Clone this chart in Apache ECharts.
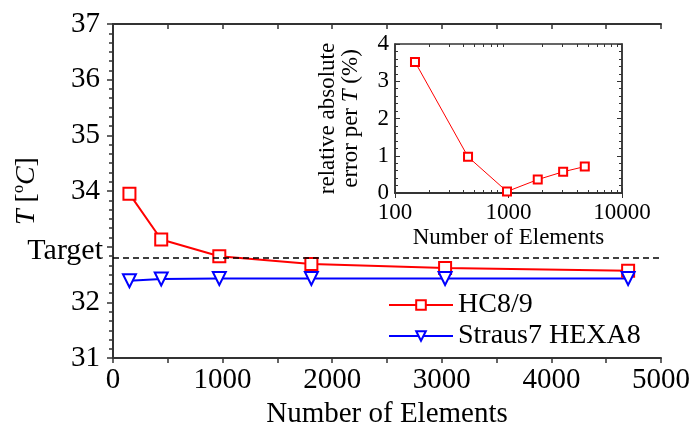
<!DOCTYPE html>
<html>
<head>
<meta charset="utf-8">
<script src="https://cdn.jsdelivr.net/npm/echarts@6/dist/echarts.min.js"></script>
<style>
  html, body { margin: 0; padding: 0; background: #ffffff; }
  #main { width: 694px; height: 434px; }
</style>
</head>
<body>
<div id="main"></div>
<script>
// data
var elements = [150, 440, 970, 1810, 3030, 4700];
var hcTemp = [33.95, 33.13, 32.83, 32.69, 32.62, 32.57];
var strausTemp = [32.39, 32.42, 32.43, 32.43, 32.43, 32.43];
var targetTemp = 32.81;
var relError = [3.52, 0.97, 0.04, 0.36, 0.57, 0.71];
var logMinorTicks = [200, 300, 400, 500, 600, 700, 800, 900, 2000, 3000, 4000, 5000, 6000, 7000, 8000, 9000];

var FONT = 'Liberation Serif';
var AXIS_COLOR = '#333333';

function pairs(xs, ys) {
    return xs.map(function (x, i) { return [x, ys[i]]; });
}
function plain(v) { return String(v); }

// log axis used only for the small decade ticks of the inset
function insetMinorAxis(pos) {
    return {
        type: 'log', gridIndex: 1, min: 100, max: 10000, logBase: 10, position: pos,
        axisLine: { show: false },
        axisTick: { show: true, inside: true, length: 3, customValues: logMinorTicks, lineStyle: { color: AXIS_COLOR } },
        axisLabel: { show: false },
        splitLine: { show: false }
    };
}

var chart = echarts.init(document.getElementById('main'), null, { renderer: 'canvas' });

var option = {
    animation: false,
    textStyle: { fontFamily: FONT, color: '#000' },
    grid: [
        { left: 113, right: 33, top: 24, bottom: 75 },
        { left: 395, top: 44, width: 227, height: 149, show: true, borderColor: AXIS_COLOR, borderWidth: 1.5, backgroundColor: 'transparent' }
    ],
    legend: {
        orient: 'vertical',
        left: 383,
        top: 286,
        itemWidth: 64,
        itemHeight: 12,
        itemGap: 3,
        textStyle: { fontFamily: FONT, fontSize: 28, color: '#000' },
        data: ['HC8/9', 'Straus7 HEXA8']
    },
    xAxis: [
        {
            type: 'value', gridIndex: 0, min: 0, max: 5000, interval: 1000,
            name: 'Number of Elements', nameLocation: 'middle', nameGap: 36,
            nameTextStyle: { fontFamily: FONT, fontSize: 29, color: '#000' },
            axisLine: { lineStyle: { color: AXIS_COLOR, width: 2 } },
            axisTick: { inside: false, length: 5, lineStyle: { color: AXIS_COLOR, width: 1.5 } },
            minorTick: { show: true, splitNumber: 2, length: 5, lineStyle: { color: AXIS_COLOR, width: 1.5 } },
            axisLabel: { fontFamily: FONT, fontSize: 29, color: '#000', margin: 8, formatter: plain },
            splitLine: { show: false }
        },
        {
            type: 'value', gridIndex: 0, min: 0, max: 5000, interval: 1000, position: 'top',
            axisLine: { lineStyle: { color: AXIS_COLOR, width: 2 } },
            axisTick: { inside: true, length: 5, lineStyle: { color: AXIS_COLOR, width: 1.5 } },
            minorTick: { show: true, splitNumber: 2, length: 5, lineStyle: { color: AXIS_COLOR, width: 1.5 } },
            axisLabel: { show: false },
            splitLine: { show: false }
        },
        {
            type: 'log', gridIndex: 1, min: 100, max: 10000, logBase: 10,
            name: 'Number of Elements', nameLocation: 'middle', nameGap: 33,
            nameTextStyle: { fontFamily: FONT, fontSize: 23, color: '#000' },
            axisLine: { lineStyle: { color: AXIS_COLOR, width: 1.5 } },
            axisTick: { inside: true, length: 5, lineStyle: { color: AXIS_COLOR } },
            axisLabel: { fontFamily: FONT, fontSize: 23, color: '#000', margin: 8, formatter: plain },
            splitLine: { show: false }
        },
        {
            type: 'log', gridIndex: 1, min: 100, max: 10000, logBase: 10, position: 'top',
            axisLine: { lineStyle: { color: AXIS_COLOR, width: 1.5 } },
            axisTick: { inside: true, length: 5, lineStyle: { color: AXIS_COLOR } },
            axisLabel: { show: false },
            splitLine: { show: false }
        },
        insetMinorAxis('bottom'),
        insetMinorAxis('top')
    ],
    yAxis: [
        {
            type: 'value', gridIndex: 0, min: 31, max: 37, interval: 1,
            name: '{i|T} [{sup|o}{i|C}]', nameLocation: 'middle', nameGap: 70, nameRotate: 90,
            nameTextStyle: {
                fontFamily: FONT, fontSize: 28, color: '#000', lineHeight: 32,
                rich: {
                    i: { fontFamily: FONT, fontSize: 28, fontStyle: 'italic', color: '#000', lineHeight: 32 },
                    sup: { fontFamily: FONT, fontSize: 16, color: '#000', verticalAlign: 'top', lineHeight: 32 }
                }
            },
            axisLine: { lineStyle: { color: AXIS_COLOR, width: 2 } },
            axisTick: { inside: false, length: 6, lineStyle: { color: AXIS_COLOR, width: 1.5 } },
            minorTick: { show: true, splitNumber: 6, length: 4, lineStyle: { color: AXIS_COLOR, width: 1.5 } },
            axisLabel: {
                fontFamily: FONT, fontSize: 29, color: '#000', margin: 13,
                formatter: function (v) { return v === 33 ? '' : String(v); }
            },
            splitLine: { show: false }
        },
        {
            type: 'value', gridIndex: 0, min: 31, max: 37, interval: 1, position: 'right',
            axisLine: { lineStyle: { color: AXIS_COLOR, width: 2 } },
            axisTick: { inside: true, length: 6, lineStyle: { color: AXIS_COLOR, width: 1.5 } },
            minorTick: { show: true, splitNumber: 6, length: 4, lineStyle: { color: AXIS_COLOR, width: 1.5 } },
            axisLabel: { show: false },
            splitLine: { show: false }
        },
        {
            type: 'value', gridIndex: 1, min: 0, max: 4, interval: 1,
            name: 'relative absolute\nerror per {i|T} (%)', nameLocation: 'middle', nameGap: 33, nameRotate: 90,
            nameTextStyle: {
                fontFamily: FONT, fontSize: 23, color: '#000', lineHeight: 23,
                rich: {
                    i: { fontFamily: FONT, fontSize: 23, fontStyle: 'italic', color: '#000', lineHeight: 23 }
                }
            },
            axisLine: { lineStyle: { color: AXIS_COLOR, width: 1.5 } },
            axisTick: { inside: true, length: 5, lineStyle: { color: AXIS_COLOR } },
            minorTick: { show: true, splitNumber: 5, length: 3, lineStyle: { color: AXIS_COLOR } },
            axisLabel: { fontFamily: FONT, fontSize: 23, color: '#000', margin: 6 },
            splitLine: { show: false }
        },
        {
            type: 'value', gridIndex: 1, min: 0, max: 4, interval: 1, position: 'right',
            axisLine: { lineStyle: { color: AXIS_COLOR, width: 1.5 } },
            axisTick: { inside: true, length: 5, lineStyle: { color: AXIS_COLOR } },
            minorTick: { show: true, splitNumber: 5, length: 3, lineStyle: { color: AXIS_COLOR } },
            axisLabel: { show: false },
            splitLine: { show: false }
        }
    ],
    series: [
        {
            name: 'HC8/9',
            type: 'line',
            xAxisIndex: 0, yAxisIndex: 0,
            data: pairs(elements, hcTemp),
            symbol: 'emptyRect', symbolSize: 12,
            itemStyle: { color: '#ff0000', borderColor: '#ff0000', borderWidth: 1.5 },
            lineStyle: { color: '#ff0000', width: 2 },
            markLine: {
                silent: true,
                symbol: 'none',
                lineStyle: { color: '#000', type: [6, 4], width: 1.5 },
                label: {
                    show: true, position: 'start', distance: 10,
                    fontFamily: FONT, fontSize: 30, color: '#000',
                    offset: [0, -6],
                    formatter: 'Target'
                },
                data: [{ yAxis: targetTemp }]
            },
            z: 3
        },
        {
            name: 'Straus7 HEXA8',
            type: 'line',
            xAxisIndex: 0, yAxisIndex: 0,
            data: pairs(elements, strausTemp),
            symbol: 'emptyTriangle', symbolRotate: 180, symbolSize: 13,
            itemStyle: { color: '#0000ff', borderColor: '#0000ff', borderWidth: 1.5 },
            lineStyle: { color: '#0000ff', width: 2 },
            z: 3
        },
        {
            name: 'error',
            type: 'line',
            xAxisIndex: 2, yAxisIndex: 2,
            data: pairs(elements, relError),
            symbol: 'emptyRect', symbolSize: 8,
            itemStyle: { color: '#ff0000', borderColor: '#ff0000', borderWidth: 1 },
            lineStyle: { color: '#ff0000', width: 1 },
            z: 4
        }
    ]
};

chart.setOption(option);
</script>
</body>
</html>
